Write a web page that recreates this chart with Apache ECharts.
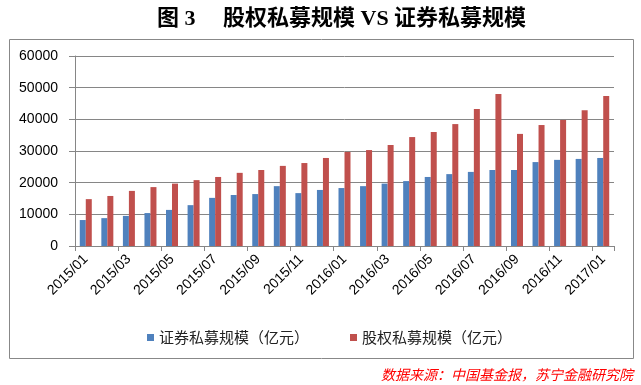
<!DOCTYPE html>
<html><head><meta charset="utf-8">
<script src="https://cdn.jsdelivr.net/npm/echarts@6/dist/echarts.min.js"></script>
<style>html,body{margin:0;padding:0;background:#fff}#c{width:641px;height:385px}</style>
</head><body><div id="c"></div>
<script>
const categories = ['2015/01','2015/02','2015/03','2015/04','2015/05','2015/06','2015/07','2015/08','2015/09','2015/10','2015/11','2015/12',
  '2016/01','2016/02','2016/03','2016/04','2016/05','2016/06','2016/07','2016/08','2016/09','2016/10','2016/11','2016/12','2017/01'];
const securities = [8200,8800,9500,10400,11400,12900,15200,16100,16400,18900,16700,17700,
  18300,18900,19700,20500,21800,22700,23400,24000,24000,26500,27200,27500,27800];
const equity = [14800,15800,17400,18600,19700,20800,21800,23100,24000,25300,26200,27800,
  29700,30300,31900,34400,36000,38500,43300,48000,35400,38200,39800,42900,47400];
const yTicks = [0,10000,20000,30000,40000,50000,60000];
const seriesNames = ['证券私募规模（亿元）','股权私募规模（亿元）'];

const chart = echarts.init(document.getElementById('c'), null, {renderer:'canvas'});
chart.setOption({
  animation:false,
  title:{
    text:'图 3     股权私募规模 VS 证券私募规模',
    left:152, top:3,
    textStyle:{fontSize:22, fontWeight:'bold', color:'#000', fontFamily:'"Liberation Serif","Noto Sans CJK SC",serif'}
  },
  graphic:[
    {type:'rect', shape:{x:9.5,y:39.5,width:624,height:319}, style:{fill:'none', stroke:'#888', lineWidth:1}, z:-1},
    {type:'text', right:8, top:368, style:{text:'数据来源：中国基金报，苏宁金融研究院', fill:'#ff0000', fontSize:14, fontStyle:'italic', fontFamily:'"Noto Sans CJK SC",sans-serif'}}
  ],
  legend:{
    left:142, top:325,
    icon:'rect', itemWidth:7, itemHeight:7, itemGap:41, itemTextGap:4,
    textStyle:{fontSize:15, color:'#222', fontFamily:'"Noto Sans CJK SC",sans-serif'},
    data:seriesNames
  },
  grid:{left:75, right:27, top:56, bottom:139, containLabel:false},
  xAxis:{
    type:'category', data:categories, boundaryGap:true,
    axisLine:{lineStyle:{color:'#868686', width:1}},
    axisTick:{show:true, interval:1, length:5, lineStyle:{color:'#868686'}},
    axisLabel:{interval:1, rotate:45, margin:11, fontSize:14, color:'#000', fontFamily:'"Liberation Sans",Arial,sans-serif'}
  },
  yAxis:{
    type:'value', min:0, max:60000, interval:10000,
    axisLine:{show:true, lineStyle:{color:'#868686'}},
    axisTick:{show:true, length:6, lineStyle:{color:'#868686'}},
    splitLine:{lineStyle:{color:'#868686', width:1}},
    axisLabel:{fontSize:14, color:'#000', margin:17, fontFamily:'"Liberation Sans",Arial,sans-serif',
      formatter:v=>yTicks.includes(v)?String(v):''}
  },
  series:[
    {name:seriesNames[0], type:'bar', data:securities, barWidth:6, barGap:'0%', itemStyle:{color:'#4F81BD'}},
    {name:seriesNames[1], type:'bar', data:equity, barWidth:6, barGap:'0%', itemStyle:{color:'#C0504D'}}
  ]
});
</script></body></html>
